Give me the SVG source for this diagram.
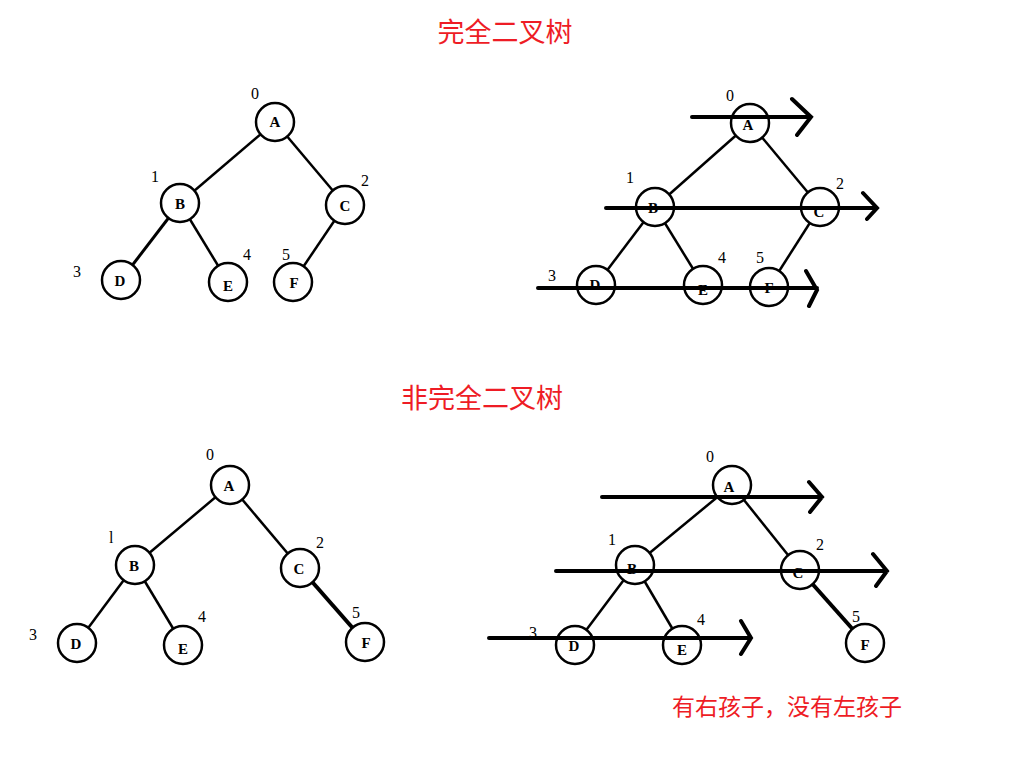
<svg xmlns="http://www.w3.org/2000/svg" width="1029" height="761" viewBox="0 0 1029 761">
<style>
.title{font-family:"Noto Sans CJK SC","Noto Sans",sans-serif;fill:#ee1c25;}
.n circle{fill:#fff;stroke:#000;stroke-width:2.5;}
.n text{font-family:"Liberation Serif",serif;font-size:15px;font-weight:bold;text-anchor:middle;fill:#000;}
.num{font-family:"Liberation Serif",serif;font-size:16px;fill:#000;}
.e line{stroke:#000;stroke-width:2.5;}
.e line.mid{stroke-width:3;}
.e line.thick{stroke-width:4;}
.arr{fill:none;stroke:#000;stroke-width:4;stroke-linecap:round;stroke-linejoin:miter;}
</style>
<rect width="1029" height="761" fill="#fff"/>
<text class="title" x="505" y="42" font-size="27" text-anchor="middle">完全二叉树</text>
<text class="title" x="482" y="408" font-size="27" text-anchor="middle">非完全二叉树</text>
<text class="title" x="787" y="715" font-size="23" text-anchor="middle">有右孩子，没有左孩子</text>

<g id="connectors">
<g class="e">
<line x1="275" y1="122" x2="180" y2="203"/>
<line x1="275" y1="122" x2="345" y2="205"/>
<line class="mid" x1="180" y1="203" x2="121" y2="280"/>
<line x1="180" y1="203" x2="228" y2="282"/>
<line x1="345" y1="205" x2="293" y2="282"/>

<line x1="750" y1="123" x2="655" y2="207"/>
<line x1="750" y1="123" x2="820" y2="207"/>
<line x1="655" y1="207" x2="596" y2="285"/>
<line x1="655" y1="207" x2="703" y2="285"/>
<line x1="820" y1="207" x2="769" y2="287"/>

<line x1="230" y1="485" x2="135" y2="565"/>
<line x1="230" y1="485" x2="300" y2="568"/>
<line x1="135" y1="565" x2="77" y2="643"/>
<line x1="135" y1="565" x2="183" y2="645"/>
<line class="thick" x1="300" y1="568" x2="365" y2="642"/>

<line x1="732" y1="485" x2="635" y2="565"/>
<line x1="732" y1="485" x2="800" y2="570"/>
<line x1="635" y1="565" x2="575" y2="645"/>
<line x1="635" y1="565" x2="682" y2="645"/>
<line class="thick" x1="800" y1="570" x2="865" y2="643"/>
</g>
</g>

<!-- Tree 1 -->
<g id="t1A" class="n"><circle cx="275" cy="122" r="19"/><text x="275" y="127">A</text></g>
<g id="t1B" class="n"><circle cx="180" cy="203" r="19"/><text x="180" y="209">B</text></g>
<g id="t1C" class="n"><circle cx="345" cy="205" r="19"/><text x="345" y="211">C</text></g>
<g id="t1D" class="n"><circle cx="121" cy="280" r="19"/><text x="120" y="286">D</text></g>
<g id="t1E" class="n"><circle cx="228" cy="282" r="19"/><text x="228" y="291">E</text></g>
<g id="t1F" class="n"><circle cx="293" cy="282" r="19"/><text x="294" y="288">F</text></g>
<g id="t1nums">
<text class="num" x="251" y="99">0</text>
<text class="num" x="151" y="182">1</text>
<text class="num" x="361" y="186">2</text>
<text class="num" x="73" y="277">3</text>
<text class="num" x="243" y="260">4</text>
<text class="num" x="282" y="260">5</text>
</g>

<!-- Tree 2 -->
<g id="t2A" class="n"><circle cx="750" cy="123" r="19"/><text x="748" y="130">A</text></g>
<g id="t2B" class="n"><circle cx="655" cy="207" r="19"/><text x="653" y="213">B</text></g>
<g id="t2C" class="n"><circle cx="820" cy="207" r="19"/><text x="819" y="217">C</text></g>
<g id="t2D" class="n"><circle cx="596" cy="285" r="19"/><text x="595" y="290">D</text></g>
<g id="t2E" class="n"><circle cx="703" cy="285" r="19"/><text x="703" y="295">E</text></g>
<g id="t2F" class="n"><circle cx="769" cy="287" r="19"/><text x="769" y="293">F</text></g>
<g id="t2nums">
<text class="num" x="726" y="101">0</text>
<text class="num" x="626" y="183">1</text>
<text class="num" x="836" y="189">2</text>
<text class="num" x="548" y="281">3</text>
<text class="num" x="718" y="263">4</text>
<text class="num" x="756" y="263">5</text>
</g>
<g id="t2arrows">
<path class="arr" d="M692 117 H811 M792 99 L811 117 L797 135"/>
<path class="arr" d="M606 208 H877 M863 193 L877 208 L867 219"/>
<path class="arr" d="M538 288 H817 M806 271 L817 290 L809 306"/>
</g>

<!-- Tree 3 -->
<g id="t3A" class="n"><circle cx="230" cy="485" r="19"/><text x="229" y="491">A</text></g>
<g id="t3B" class="n"><circle cx="135" cy="565" r="19"/><text x="134" y="571">B</text></g>
<g id="t3C" class="n"><circle cx="300" cy="568" r="19"/><text x="299" y="574">C</text></g>
<g id="t3D" class="n"><circle cx="77" cy="643" r="19"/><text x="76" y="649">D</text></g>
<g id="t3E" class="n"><circle cx="183" cy="645" r="19"/><text x="183" y="654">E</text></g>
<g id="t3F" class="n"><circle cx="365" cy="642" r="19"/><text x="366" y="648">F</text></g>
<g id="t3nums">
<text class="num" x="206" y="460">0</text>
<text class="num" x="109" y="543">l</text>
<text class="num" x="316" y="548">2</text>
<text class="num" x="29" y="640">3</text>
<text class="num" x="198" y="622">4</text>
<text class="num" x="352" y="618">5</text>
</g>

<!-- Tree 4 -->
<g id="t4A" class="n"><circle cx="732" cy="485" r="19"/><text x="729" y="492">A</text></g>
<g id="t4B" class="n"><circle cx="635" cy="565" r="19"/><text x="632" y="574">B</text></g>
<g id="t4C" class="n"><circle cx="800" cy="570" r="19"/><text x="798" y="578">C</text></g>
<g id="t4D" class="n"><circle cx="575" cy="645" r="19"/><text x="574" y="651">D</text></g>
<g id="t4E" class="n"><circle cx="682" cy="645" r="19"/><text x="682" y="655">E</text></g>
<g id="t4F" class="n"><circle cx="865" cy="643" r="19"/><text x="865" y="650">F</text></g>
<g id="t4nums">
<text class="num" x="706" y="462">0</text>
<text class="num" x="608" y="545">1</text>
<text class="num" x="816" y="550">2</text>
<text class="num" x="529" y="638">3</text>
<text class="num" x="697" y="625">4</text>
<text class="num" x="852" y="622">5</text>
</g>
<g id="t4arrows">
<path class="arr" d="M602 497 H822 M809 482 L822 497 L810 512"/>
<path class="arr" d="M556 571 H887 M873 554 L887 571 L876 586"/>
<path class="arr" d="M489 638 H751 M741 621 L751 638 L741 654"/>
</g>
</svg>
